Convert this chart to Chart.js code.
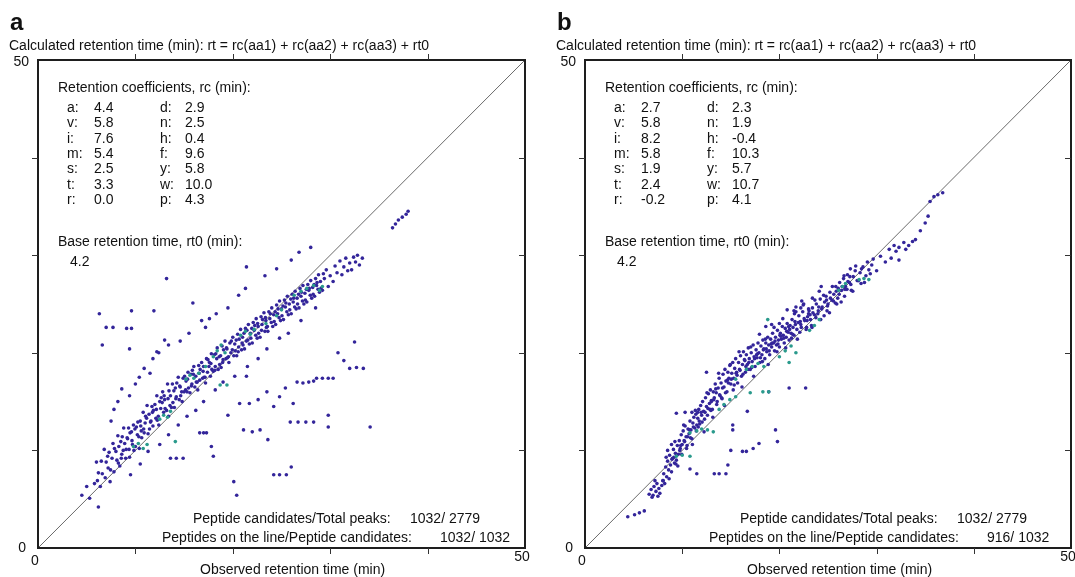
<!DOCTYPE html>
<html>
<head>
<meta charset="utf-8">
<script src="https://cdn.jsdelivr.net/npm/chart.js@4.4.1/dist/chart.umd.min.js"></script>
<style>
  html, body { margin: 0; padding: 0; background: #fff; }
  body { width: 1075px; height: 577px; position: relative; overflow: hidden; }
  canvas { position: absolute; top: 0; }
  #chartA { left: 0; }
  #chartB { left: 537px; }
</style>
</head>
<body>
<canvas id="chartA" width="537" height="577"></canvas>
<canvas id="chartB" width="538" height="577"></canvas>
<script>
// axis ticks (min)
const tickValues = [0, 10, 20, 30, 40, 50];

// retention coefficient table
const aminoLeft = ['a', 'v', 'i', 'm', 's', 't', 'r'];
const aminoRight = ['d', 'n', 'h', 'f', 'y', 'w', 'p'];
const rcLeftA = ['4.4', '5.8', '7.6', '5.4', '2.5', '3.3', '0.0'];
const rcRightA = ['2.9', '2.5', '0.4', '9.6', '5.8', '10.0', '4.3'];
const rcLeftB = ['2.7', '5.8', '8.2', '5.8', '1.9', '2.4', '-0.2'];
const rcRightB = ['2.3', '1.9', '-0.4', '10.3', '5.7', '10.7', '4.1'];
const rt0A = '4.2';
const rt0B = '4.2';
const countLabels = ['Peptide candidates/Total peaks:', 'Peptides on the line/Peptide candidates:'];
const countsA = ['1032/ 2779', '1032/ 1032'];
const countsB = ['1032/ 2779', '916/ 1032'];

// [observed, calculated] retention times, panel a
const peaksA = [
  [4.5,5.4],[5.3,5.1],[6.2,4.2],[5.0,6.3],[5.8,6.6],
  [6.0,8.8],[6.1,6.9],[6.2,7.7],[6.4,6.3],[6.5,8.9],[6.6,7.6],[6.8,10.1],[6.9,7.2],[7.0,8.8],
  [7.2,8.2],[7.3,9.8],[7.4,6.8],[7.6,9.2],[7.7,10.7],[7.8,7.8],[8.0,9.9],[8.1,9.0],[8.2,11.5],
  [8.4,8.4],[8.5,10.9],[8.6,9.6],[8.8,12.3],[8.9,10.7],[9.0,9.2],[9.2,11.2],[9.3,12.3],[9.4,9.3],
  [9.6,11.9],[9.7,10.6],[9.8,12.6],[10.0,10.4],[10.1,12.4],[10.2,11.6],[10.4,10.2],[10.5,13.0],[10.6,12.0],
  [10.8,13.9],[10.9,11.8],[11.0,12.8],[11.2,14.6],[11.3,11.7],[11.4,13.7],[11.6,13.0],[11.7,14.5],[11.8,12.5],
  [12.0,14.7],[12.1,13.3],[12.2,15.6],[12.4,12.6],[12.5,15.0],[12.6,14.3],[12.8,16.0],[12.9,13.9],[13.0,15.2],
  [13.2,14.1],[13.3,16.8],[13.4,13.5],[13.6,15.6],[13.7,14.4],[13.8,16.8],[14.0,14.4],[14.1,16.4],[14.2,15.5],
  [14.4,17.5],[14.5,15.2],[14.6,16.5],[14.8,15.0],[14.9,17.4],[15.0,16.0],[15.2,17.1],[15.3,16.0],[15.4,18.0],
  [15.6,15.9],[15.7,17.8],[15.8,16.8],[16.0,18.6],[16.1,16.5],[16.2,17.6],[16.4,16.2],[16.5,18.7],[16.6,17.2],
  [16.8,19.0],[16.9,17.4],[17.0,18.6],[17.2,16.9],[17.3,19.4],[17.4,18.0],[17.6,19.0],[17.7,17.6],[17.8,19.9],
  [18.0,18.1],[18.1,19.8],[18.2,18.6],[18.4,20.5],[18.5,18.3],[18.6,19.6],[18.8,18.5],[18.9,20.7],[19.0,19.3],
  [19.2,21.2],[19.3,19.4],[19.4,20.4],[19.6,19.0],[19.7,21.0],[19.8,20.0],[20.0,21.6],[20.1,19.7],[20.2,20.9],
  [20.4,19.7],[20.5,21.9],[20.6,20.6],[20.8,22.4],[20.9,20.3],[21.0,21.6],[21.2,20.4],[21.3,22.5],[21.4,21.2],
  [21.6,22.9],[21.7,20.9],[21.8,22.0],[22.0,21.0],[22.1,23.1],[22.2,22.3],[22.4,23.5],[22.5,21.5],[22.6,22.7],
  [22.8,21.6],[22.9,23.7],[23.0,22.9],[23.2,24.1],[23.3,22.2],[23.4,23.3],[23.6,22.2],[23.7,24.2],[23.8,23.5],
  [24.0,24.6],[24.1,22.7],[24.2,23.9],[24.4,22.9],[24.5,24.9],[24.6,24.0],[24.8,25.3],[24.9,23.3],[25.0,24.5],
  [25.2,23.4],[25.3,25.4],[25.4,24.7],[25.6,25.8],[25.7,23.9],[25.8,25.0],[26.0,24.0],[26.1,26.0],[26.2,25.2],
  [26.4,26.3],[26.5,24.5],[26.6,25.6],[26.8,24.6],[26.9,26.6],[27.0,25.8],[27.2,26.9],[27.3,25.0],[27.4,26.1],
  [27.6,25.2],[27.7,27.0],[27.8,26.4],[28.0,27.4],[28.1,25.6],[28.2,26.7],[28.4,25.8],[28.5,27.6],[28.6,26.9],
  [28.8,28.0],[28.9,26.2],[29.0,27.3],[29.2,26.4],[29.3,28.1],[29.4,27.6],[29.6,28.5],[29.8,26.8],[30.0,27.9],
  [30.3,27.3],[30.5,28.9],[30.7,28.2],[31.0,29.4],[31.2,28.0],[31.4,28.8],[31.6,29.7],[31.8,28.4],[32.0,29.2],
  [32.2,28.5],[32.4,29.8],[32.6,29.3],[32.8,30.0],[33.0,29.0],[33.3,29.7],
  [36.4,32.8],[36.7,33.2],[37.0,33.6],[37.4,33.9],[37.8,34.2],[38.0,34.5],
  [7.15,9.4],[7.45,8.0],[7.85,10.2],[8.25,8.7],[8.65,11.4],[9.05,10.1],[9.45,11.8],[9.85,10.0],[10.25,12.9],[10.65,11.3],
  [11.05,13.5],[11.45,12.2],[11.85,14.1],[12.25,13.1],[12.65,15.4],[13.05,14.3],[13.45,16.1],[13.85,14.9],[14.25,16.9],[14.65,15.6],
  [15.05,17.6],[15.45,16.4],[15.85,18.2],[16.25,17.0],[16.65,18.3],[17.05,17.5],[17.45,19.3],[17.85,18.3],[18.25,19.9],[18.65,18.8],
  [19.05,20.3],[19.45,19.5],[19.85,21.2],[20.25,20.2],[20.65,21.4],[21.05,20.8],[21.45,22.3],[21.85,21.5],[22.25,22.8],[22.65,22.0],
  [23.05,23.4],[23.45,22.6],[23.85,24.0],[24.25,23.2],[24.65,24.5],[25.05,23.8],[25.45,25.1],[25.85,24.4],[26.25,25.6],[26.65,25.0],
  [27.05,26.2],[27.45,25.4],[27.85,26.6],[28.25,26.0],[28.65,27.2],[29.05,26.6],
  [8.3,10.4],[8.55,9.2],[8.75,10.0],[9.15,11.3],[9.35,10.1],[9.65,11.0],[9.95,12.2],[10.35,11.4],[10.55,12.5],[10.85,12.2],
  [11.15,13.3],[11.55,12.9],[11.75,13.9],[12.15,14.2],[12.35,13.5],[12.75,14.9],[12.95,15.6],[13.35,15.3],[13.55,14.6],[13.95,16.1],
  [14.15,15.3],[14.55,16.6],[14.75,16.0],[15.15,16.2],[15.35,17.3],[15.75,16.6],[15.95,17.8],[16.35,17.0],[16.55,17.9],[16.95,18.1],
  [17.15,17.5],[17.55,18.6],[17.75,18.9],[18.15,18.2],[18.35,19.4],[18.75,19.7],[18.95,19.0],[19.35,20.5],[19.55,19.6],[19.95,20.3],
  [20.35,21.3],[20.55,20.1],[20.95,21.0],[21.15,22.0],[21.55,21.3],[21.95,22.5],[22.35,21.8],[22.55,23.0],[22.95,22.3],[23.35,23.6],
  [23.55,22.7],[23.95,23.1],[24.35,24.2],[24.75,23.6],[25.15,24.8],[25.55,24.2],[25.95,25.5],[26.35,24.7],[26.75,26.0],[27.15,25.3],
  [27.55,26.5],[27.95,25.9],[28.35,27.0],[28.75,26.5],
  // scattered above the band
  [7.5,13.0],[7.8,14.2],[8.2,15.0],[8.6,16.3],[9.4,15.6],[10.0,16.8],[10.4,17.5],[10.9,18.4],[11.5,17.9],[11.8,19.4],
  [12.4,20.0],[13.0,21.3],[14.6,21.2],[15.5,22.0],[16.8,23.3],[17.2,22.6],[18.3,24.0],[19.5,24.6],[20.6,25.9],[21.3,26.6],
  [23.3,27.9],[24.5,28.6],[26.0,29.5],[26.8,30.3],[28.0,30.8],
  // scattered below the band
  [9.5,7.5],[10.5,8.6],[11.3,9.9],[12.5,10.6],[13.4,11.6],[14.4,12.6],[15.3,13.5],[16.2,14.1],[17.0,15.0],[18.2,16.2],
  [19.0,17.0],[20.2,17.6],[21.5,18.6],[22.6,19.4],[23.5,20.4],[24.8,21.5],[25.7,22.0],[27.0,23.3],[28.5,24.6],
  // outliers
  [21.4,28.8],[13.2,27.6],[6.3,24.0],[9.6,24.3],[11.9,24.3],[15.9,25.1],[7.0,22.6],[7.7,22.6],[9.1,22.5],[9.6,22.5],
  [6.6,20.8],[9.4,20.4],[13.4,20.8],[17.6,23.5],[12.2,20.1],[32.5,21.1],[32.0,18.4],[32.7,18.5],[33.4,18.4],
  [28.6,17.4],[29.2,17.4],[29.8,17.4],[30.3,17.4],[26.6,17.0],[27.2,16.9],[27.8,17.0],[28.3,17.1],[34.1,12.4],
  [25.9,12.9],[26.7,12.9],[27.5,12.9],[28.3,12.9],[29.8,13.6],[29.8,12.4],[24.2,7.5],[24.8,7.5],[25.5,7.5],
  [20.1,6.8],[20.4,5.4],[26.0,8.3],[21.1,12.1],[22.0,11.9],[22.8,12.1],[23.6,11.1],[16.6,11.8],[17.0,11.8],[17.3,11.8],
  [17.8,10.4],[18.0,9.4],[13.6,9.2],[14.2,9.2],[14.9,9.2],[19.5,13.6],[20.7,14.8],[21.7,14.8],[21.4,17.6],
  [24.2,14.5],[24.8,15.5],[26.2,14.8],[23.5,16.0],[22.6,15.2],[25.4,16.4],[30.8,20.0],[31.4,19.2]
];
const tealA = [
  [9.8,10.4],[10.3,10.7],[10.8,10.2],[11.2,10.6],[12.5,13.2],[12.9,13.6],[13.3,13.4],[13.6,14.0],[14.1,10.9],[15.2,17.3],
  [15.6,17.7],[16.0,17.4],[16.5,17.9],[18.0,19.6],[18.4,20.2],[18.8,20.8],[19.2,20.0],[18.7,16.7],[19.4,16.7],[20.8,21.8],
  [21.3,22.2],[21.8,21.9],[22.2,22.4],[24.5,23.8],[25.0,24.4],[26.3,25.9],[27.0,26.3],[27.6,26.6],[28.3,26.9],[28.9,26.4],
  [29.2,26.8],[23.4,23.0],[17.2,18.6]
];

// [observed, calculated] retention times, panel b
const peaksB = [
  [4.4,3.2],[5.1,3.4],[5.6,3.6],[6.1,3.8],
  [6.6,5.5],[6.8,6.0],[7.0,5.4],[7.1,6.3],[7.3,5.8],[7.4,6.6],[7.6,6.1],[7.7,5.6],[7.9,6.4],[8.0,6.9],[6.9,5.2],[7.5,5.3],[8.2,6.6],[7.2,6.9],
  [8.1,7.6],[8.3,8.3],[8.4,7.3],[8.5,8.9],[8.6,8.0],[8.7,9.5],[8.8,8.5],[8.9,7.8],[9.0,9.2],[9.1,10.1],[9.2,8.7],[9.3,9.7],[9.4,9.0],[9.5,10.5],[8.5,10.0],[8.9,10.6],
  [9.6,9.6],[9.7,11.0],[9.8,10.2],[9.9,11.6],[10.0,10.6],[10.1,12.0],[10.2,11.0],[10.3,12.5],[10.4,11.4],[10.5,10.5],
  [10.6,12.2],[10.7,11.7],[10.8,13.0],[10.9,12.1],[11.0,11.2],[11.1,12.8],[11.2,13.4],[11.3,12.3],[11.4,13.7],[11.5,12.6],
  [11.6,13.3],[11.7,14.2],[11.8,12.7],[11.9,14.6],[12.0,13.6],[12.1,15.0],[12.2,14.0],[12.3,13.2],[12.4,15.4],[12.5,14.5],
  [12.6,13.6],[12.7,15.8],[12.8,14.8],[12.9,16.2],[13.0,15.1],[13.1,14.2],[13.2,16.0],[13.3,15.4],[13.4,16.8],[13.5,15.9],
  [13.6,15.0],[13.7,16.4],[13.8,17.4],[13.9,15.6],[14.0,16.9],[14.1,15.3],[14.2,17.8],[14.3,16.5],[14.4,18.3],[14.5,17.1],
  [14.6,16.0],[14.7,18.0],[14.8,17.4],[14.9,18.7],[15.0,16.8],[15.1,17.9],[15.2,19.0],[15.3,17.4],[15.4,18.4],[15.5,19.4],
  [15.6,18.0],[15.7,16.9],[15.8,19.0],[15.9,18.3],[16.0,19.7],[16.1,17.6],[16.2,18.8],[16.3,20.1],[16.4,19.3],[16.5,18.0],
  [16.6,19.8],[16.7,18.8],[16.8,20.5],[16.9,19.4],[17.0,18.3],[17.1,20.0],[17.2,19.1],[17.3,20.8],[17.4,19.6],[17.5,18.6],
  [17.6,20.3],[17.7,19.5],[17.8,21.0],[17.9,20.0],[18.0,19.0],[18.1,20.7],[18.2,19.8],[18.3,21.3],[18.4,20.4],[18.5,19.4],
  [18.6,21.0],[18.7,20.1],[18.8,21.6],[18.9,20.8],[19.0,19.8],[19.1,21.4],[19.2,20.6],[19.3,22.0],[19.4,21.0],[19.5,20.2],
  [19.6,21.6],[19.7,20.8],[19.8,22.3],[19.9,21.3],[20.0,20.6],[20.1,22.0],[20.2,21.4],[20.3,22.7],[20.4,21.8],[20.5,21.0],
  [20.6,22.5],[20.7,21.6],[20.8,23.0],[20.9,22.1],[21.0,21.3],[21.1,22.8],[21.2,22.0],[21.3,23.4],[21.4,22.6],[21.5,21.8],
  [21.6,23.2],[21.8,22.4],[22.0,23.8],[22.2,22.9],[22.4,24.2],[22.6,23.3],[22.8,22.6],[23.0,24.0],[23.2,23.4],[23.4,24.6],
  [21.7,24.2],[22.5,25.0],[23.3,22.8],[22.1,22.1],[22.9,23.7],
  [23.6,23.9],[23.8,25.0],[24.0,24.3],[24.2,25.5],[24.4,24.7],[24.6,23.8],[24.8,25.8],[25.0,25.0],[25.2,26.2],[25.4,25.4],[24.1,26.3],[24.9,24.3],
  [25.6,26.0],[25.8,26.8],[26.0,25.6],[26.2,27.2],[26.4,26.4],[26.6,27.6],[26.8,26.8],[27.0,28.0],[27.2,27.2],[27.4,26.4],[27.6,27.8],[27.8,28.4],[25.9,25.0],[26.7,25.8],[27.3,28.6],
  [28.0,27.4],[28.3,28.2],[28.6,28.8],[28.9,27.9],[29.2,28.5],[29.5,29.0],[28.4,27.1],
  [30.9,29.3],[31.5,29.7],[32.3,29.5],[31.3,30.6],[31.8,31.0],[32.3,30.8],[32.8,31.3],[33.3,31.0],[33.7,31.4],[34.0,31.6],
  [32.0,30.4],[33.0,30.6],[34.5,32.5],[35.0,33.3],[35.3,34.0],[35.9,36.0],[36.3,36.2],[36.8,36.4],[35.5,35.5],
  [8.05,6.9],[8.35,9.3],[8.65,7.1],[8.95,9.1],[9.25,10.9],[9.55,8.4],[9.85,10.5],[10.15,12.6],[10.45,10.2],[10.75,12.1],
  [11.05,10.6],[11.35,14.1],[11.65,12.4],[11.95,13.9],[12.25,11.9],[12.55,15.9],[12.85,14.2],[13.15,13.4],[13.45,16.3],[13.75,17.9],
  [14.05,15.4],[14.35,14.6],[14.65,17.2],[14.95,18.8],[15.25,16.2],[15.55,17.9],[15.85,20.1],[16.15,16.5],[16.45,19.2],[16.75,18.3],
  [17.05,20.6],[17.35,17.6],[17.65,19.8],[17.95,21.9],[18.25,19.1],[18.55,21.4],[18.85,18.8],[19.15,20.9],[19.45,22.6],[19.75,20.1],
  [20.05,21.8],[20.35,23.5],[20.65,20.5],[20.95,22.7],[21.25,21.5],[21.55,24.0],[21.85,21.4],[22.15,23.2],[22.45,24.9],[22.75,22.4],
  [23.05,24.3],[23.35,22.6],[23.65,25.4],[23.95,24.0],[24.25,23.4],[24.55,25.9],[24.85,25.4],[25.15,24.1],[25.45,26.8],[25.75,25.1],
  [26.05,26.6],[26.35,25.2],[26.65,27.9],[26.95,26.5],[27.25,27.8],[27.55,26.3],[27.85,28.9],[28.15,27.4],[28.45,28.6],[28.75,27.2],
  [29.05,29.3],[29.35,28.1],[29.65,29.6],[30.0,28.4],[30.4,29.9],
  [9.15,9.3],[9.35,8.6],[9.75,10.0],[9.95,9.6],[10.25,10.9],[10.55,11.4],[10.85,11.3],[11.15,12.4],[11.45,12.0],[11.75,13.0],
  [12.05,12.9],[12.35,13.9],[12.65,14.3],[12.95,14.1],[13.25,15.2],[13.55,14.7],[13.85,15.7],[14.15,16.4],[14.45,15.9],[14.75,16.9],
  [15.05,17.3],[15.35,16.7],[15.65,17.7],[15.95,18.2],[16.25,17.8],[16.55,18.6],[16.85,19.0],[17.15,18.5],[17.45,19.4],[17.75,19.9],
  [18.05,19.5],[18.35,20.3],[18.65,20.4],[18.95,20.2],[19.25,21.0],[19.55,21.2],[19.85,20.9],[20.15,21.7],[20.45,21.5],[20.75,22.2],
  [21.05,22.4],[21.35,21.9],[21.65,22.9],[21.95,23.1],[22.25,22.6],[22.55,23.5],[22.85,23.3],[23.15,23.9],[23.45,24.1],[23.75,23.6],
  [24.05,24.7],[24.35,24.5],[24.65,25.2],[24.95,24.8],[25.25,25.6],[25.55,25.3],[25.85,26.3],[26.15,26.0],[26.45,26.8],[26.75,26.5],
  [27.05,27.3],[27.35,27.0],
  // outliers
  [19.6,12.1],[19.8,10.9],[17.9,10.7],[17.3,10.2],[16.2,9.9],[16.6,9.9],[15.0,10.0],[13.3,7.6],[13.8,7.6],[14.5,7.6],
  [11.5,7.6],[10.8,8.1],[14.7,8.5],[21.0,16.4],[22.7,16.4],[18.9,16.0],[16.7,14.0],[15.2,12.6],[15.2,12.1],[12.5,18.0],
  [9.4,13.8],[10.3,13.9],[11.0,13.9],[11.6,13.9],[18.6,22.7],[19.2,22.9],[20.0,23.0],[21.7,24.7],[22.3,25.3],[20.8,24.4],
  [24.3,26.8],[13.0,15.0],[21.5,24.3],[22.2,24.6],[23.0,24.5],[23.4,25.6]
];
const tealB = [
  [9.4,9.4],[10.0,9.5],[10.8,9.4],[10.8,11.8],[11.5,12.0],[12.0,12.2],[12.6,12.1],[13.2,11.9],[13.8,14.2],[14.3,14.7],
  [14.9,15.2],[15.5,15.5],[16.6,18.3],[17.2,18.6],[17.8,18.9],[18.4,18.6],[20.0,19.6],[20.6,20.2],[21.2,20.7],[21.7,20.0],
  [23.1,22.3],[23.6,22.8],[24.1,23.4],[26.1,26.4],[26.5,26.8],[26.8,27.1],[28.2,27.5],[28.7,27.6],[29.2,27.5],[18.8,23.4],
  [21.0,19.0],[18.3,16.0],[18.9,16.0],[17.0,15.9],[15.5,17.3]
];

const BLUE = '#33259a';
const TEAL = '#2a9a8c';
const FONT = '14px "Liberation Sans", Arial, sans-serif';

const toXY = arr => arr.map(([x, y]) => ({ x, y }));

const framePlugin = {
  id: 'frame',
  afterDraw(chart, args, o) {
    const { ctx, chartArea: ca, scales: { x, y } } = chart;
    const L = ca.left, R = ca.right, T = ca.top, B = ca.bottom;
    const seg = (x1, y1, x2, y2) => { ctx.beginPath(); ctx.moveTo(x1, y1); ctx.lineTo(x2, y2); ctx.stroke(); };
    ctx.save();
    ctx.strokeStyle = '#1e1e1e';
    ctx.lineWidth = 2;
    ctx.strokeRect(L, T, R - L, B - T);
    ctx.lineWidth = 1;
    ctx.strokeStyle = '#333';
    tickValues.slice(1, -1).forEach(v => {
      const px = Math.round(x.getPixelForValue(v)) + 0.5;
      const py = Math.round(y.getPixelForValue(v)) + 0.5;
      seg(px, B, px, B + 6);
      seg(px, T, px, T - 6);
      seg(L, py, L - 6, py);
      seg(R, py, R - 6, py);
    });

    ctx.fillStyle = '#111';
    ctx.textBaseline = 'alphabetic';
    ctx.font = 'bold 24px "Liberation Sans", Arial, sans-serif';
    ctx.textAlign = 'left';
    ctx.fillText(o.letter, L - 28, 30);

    ctx.font = FONT;
    ctx.textBaseline = 'middle';
    ctx.fillText('Calculated retention time (min): rt = rc(aa1) + rc(aa2) + rc(aa3) + rt0', L - 29, 46);

    // tick labels
    ctx.textAlign = 'right';
    ctx.fillText(String(tickValues[5]), L - 9, y.getPixelForValue(50) + 2);
    ctx.fillText(String(tickValues[0]), L - 12, y.getPixelForValue(0));
    ctx.textAlign = 'center';
    ctx.fillText(String(tickValues[0]), x.getPixelForValue(0) - 3, B + 13);
    ctx.fillText(String(tickValues[5]), x.getPixelForValue(50) - 3, B + 9);
    ctx.textAlign = 'left';
    ctx.fillText('Observed retention time (min)', L + 162, 570);

    // coefficient table
    ctx.fillText('Retention coefficients, rc (min):', L + 20, 88);
    const rows = [108, 123, 139, 154, 169, 185, 200];
    rows.forEach((ry, i) => {
      ctx.fillText(aminoLeft[i] + ':', L + 29, ry);
      ctx.fillText(o.rcLeft[i], L + 56, ry);
      ctx.fillText(aminoRight[i] + ':', L + 122, ry);
      ctx.fillText(o.rcRight[i], L + 147, ry);
    });
    ctx.fillText('Base retention time, rt0 (min):', L + 20, 242);
    ctx.fillText(o.rt0, L + 32, 262);

    // peak counts
    ctx.fillText(countLabels[0], L + 155, 519);
    ctx.fillText(o.counts[0], L + 372, 519);
    ctx.fillText(countLabels[1], L + 124, 538);
    ctx.fillText(o.counts[1], L + 402, 538);
    ctx.restore();
  }
};

function makePanel(id, letter, peaks, teal, rcLeft, rcRight, rt0, counts, padding) {
  return new Chart(document.getElementById(id), {
    type: 'scatter',
    data: {
      datasets: [
        { data: toXY(teal), backgroundColor: TEAL, borderWidth: 0, pointRadius: 1.8, order: 0 },
        { data: toXY(peaks), backgroundColor: BLUE, borderWidth: 0, pointRadius: 1.8, order: 1 },
        { data: [{ x: 0, y: 0 }, { x: 50, y: 50 }], showLine: true, borderColor: '#6a6a6a',
          borderWidth: 1, pointRadius: 0, order: 2 }
      ]
    },
    options: {
      responsive: false,
      animation: false,
      devicePixelRatio: 1,
      layout: { padding },
      scales: {
        x: { type: 'linear', min: tickValues[0], max: tickValues[5], display: false },
        y: { type: 'linear', min: tickValues[0], max: tickValues[5], display: false }
      },
      plugins: {
        legend: { display: false },
        tooltip: { enabled: false },
        frame: { letter, rcLeft, rcRight, rt0, counts }
      }
    },
    plugins: [framePlugin]
  });
}

makePanel('chartA', 'a', peaksA, tealA, rcLeftA, rcRightA, rt0A, countsA,
  { left: 38, top: 60, right: 12, bottom: 29 });
makePanel('chartB', 'b', peaksB, tealB, rcLeftB, rcRightB, rt0B, countsB,
  { left: 48, top: 60, right: 2, bottom: 29 });
</script>
</body>
</html>
